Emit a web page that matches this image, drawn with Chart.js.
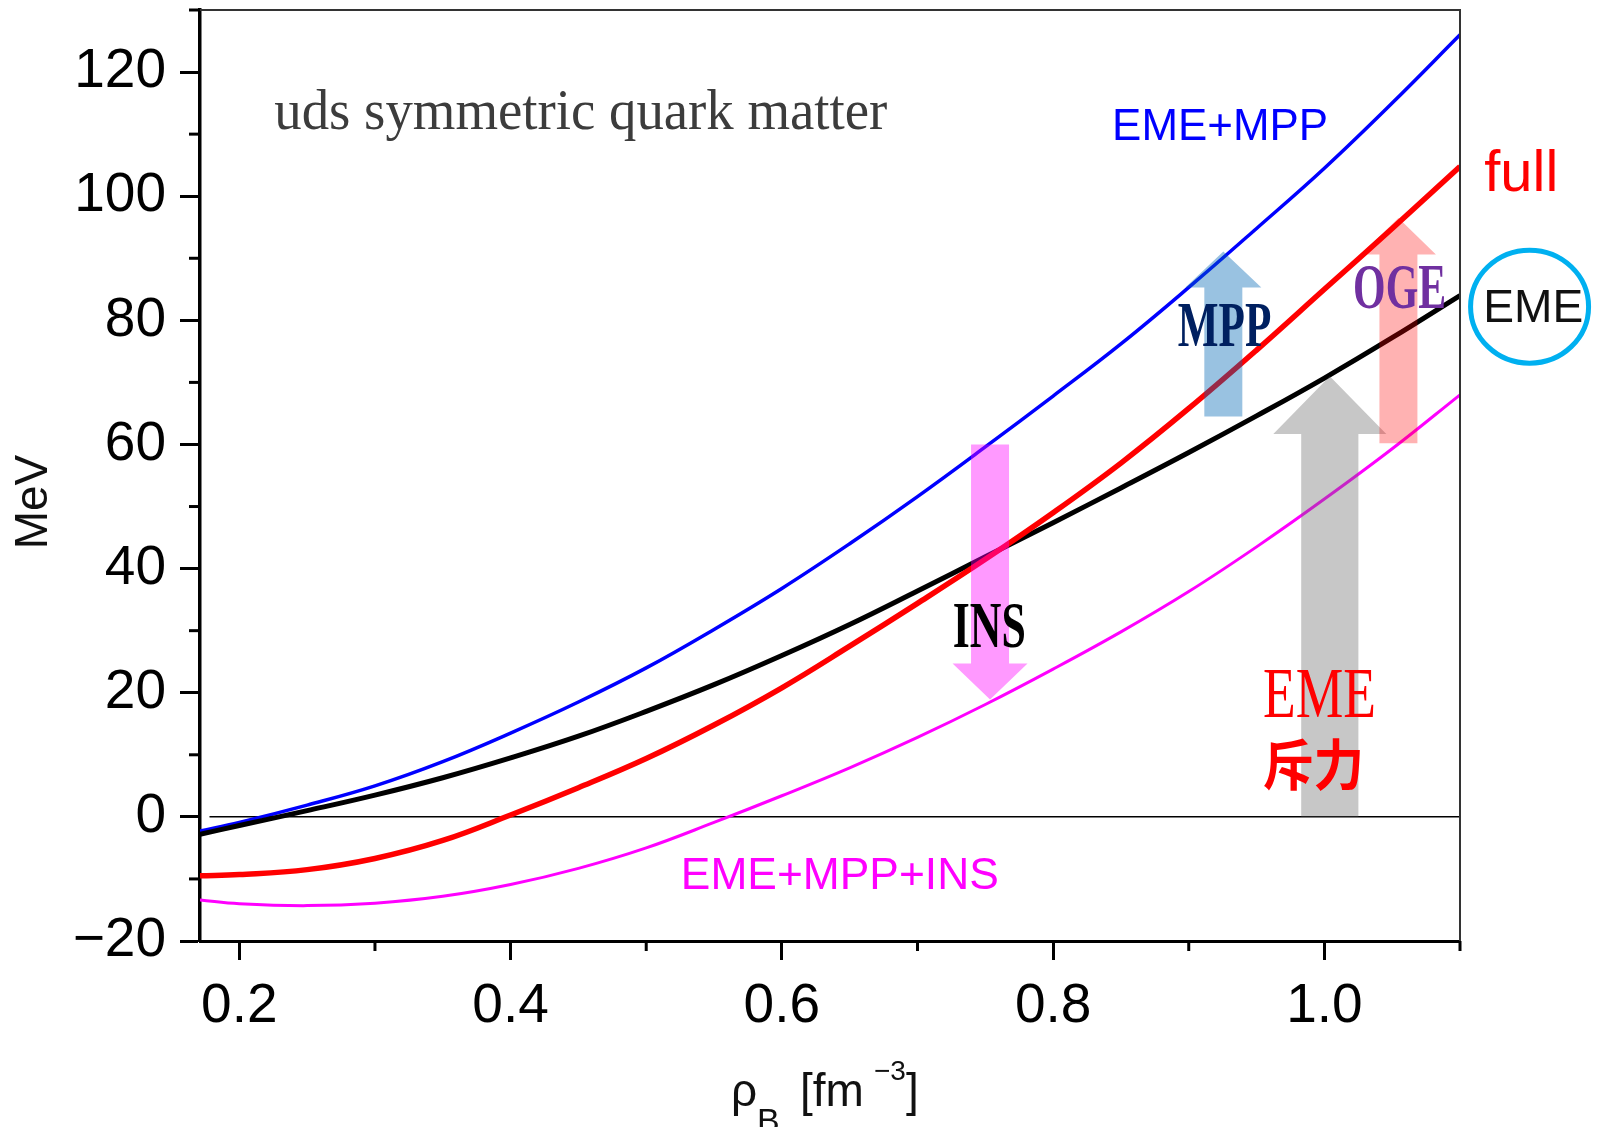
<!DOCTYPE html>
<html>
<head>
<meta charset="utf-8">
<script src="https://cdn.jsdelivr.net/npm/chart.js@4.4.1/dist/chart.umd.min.js"></script>
<style>
  html, body { margin: 0; padding: 0; background: #fff; }
</style>
</head>
<body>
<canvas id="myChart" width="1601" height="1127"></canvas>
<script>
// baryon density rho_B [fm^-3]
var rho       = [0.171, 0.2, 0.25, 0.3, 0.35, 0.4, 0.45, 0.5, 0.55, 0.6, 0.65, 0.7, 0.75, 0.8, 0.85, 0.9, 0.95, 1.0, 1.05, 1.1];
// energies in MeV
var emeMpp    = [-2.3, -0.9, 1.9, 5.0, 8.9, 13.5, 18.5, 24.0, 30.2, 36.8, 44.0, 51.6, 59.6, 67.8, 76.2, 85.3, 94.8, 104.5, 115.0, 126.0];
var full      = [-9.5, -9.3, -8.5, -6.7, -3.8, 0.3, 4.7, 9.4, 14.8, 20.8, 27.5, 34.4, 41.5, 49.0, 57.0, 65.8, 75.2, 85.0, 94.8, 104.8];
var eme       = [-2.8, -1.4, 1.0, 3.5, 6.3, 9.5, 13.0, 17.0, 21.3, 26.0, 31.0, 36.4, 41.9, 47.4, 53.0, 58.7, 64.6, 70.7, 77.2, 84.0];
var emeMppIns = [-13.4, -14.0, -14.3, -13.9, -12.8, -10.9, -8.3, -5.0, -0.9, 3.4, 7.9, 12.8, 18.1, 23.8, 29.8, 36.3, 43.5, 51.2, 59.3, 68.0];

var xTicks = [0.2, 0.4, 0.6, 0.8, 1.0];
var xMinor = [0.3, 0.5, 0.7, 0.9, 1.1];
var yTicks = [-20, 0, 20, 40, 60, 80, 100, 120];
var yMinor = [-10, 10, 30, 50, 70, 90, 110, 130];

// block arrows: x, tail, head base, tip (data units); half widths in px
var arrows = [
    { x: 0.7535, tail: 60.0, base: 24.7, tip: 18.9, shaft: 19, head: 37.5, color: 'rgba(255,0,255,0.4)' },
    { x: 0.9255, tail: 64.5, base: 85.3, tip: 91.1, shaft: 19, head: 38, color: 'rgba(0,102,180,0.4)' },
    { x: 1.004, tail: 0, base: 61.7, tip: 71.0, shaft: 28.6, head: 56.5, color: 'rgba(100,100,100,0.36)' },
    { x: 1.0546, tail: 60.2, base: 90.6, tip: 96.5, shaft: 19, head: 37.5, color: 'rgba(255,0,0,0.3)' }
];

var serif = '"Liberation Serif", "DejaVu Serif", serif';
var sans = '"Liberation Sans", Arial, sans-serif';

// text labels: left x, baseline y (data units), target width px
var labels = [
    { text: 'uds symmetric quark matter', x: 0.2258, y: 110.8, w: 613, font: '56px ' + serif, color: '#3c3c3c' },
    { text: 'EME+MPP', x: 0.8435, y: 109.0, w: 216, font: '45px ' + sans, color: '#0000ff' },
    { text: 'full', x: 1.1179, y: 100.8, w: 74, font: '57px ' + sans, color: '#ff0000' },
    { text: 'EME', x: 1.1171, y: 79.8, w: 100, font: '47px ' + sans, color: '#111111' },
    { text: 'OGE', x: 1.0212, y: 82.0, w: 93, font: 'bold 63px ' + serif, color: '#7030a0' },
    { text: 'MPP', x: 0.8919, y: 75.8, w: 93.5, font: 'bold 63px ' + serif, color: '#002060' },
    { text: 'INS', x: 0.726, y: 27.4, w: 73, font: 'bold 65px ' + serif, color: '#000000' },
    { text: 'EME', x: 0.9547, y: 16.1, w: 113, font: '72px ' + serif, color: '#ff0000' },
    { text: '斥力', x: 0.9547, y: 5.2, w: 101, font: 'bold 55px "Noto Sans CJK JP", sans-serif', color: '#ff0000' },
    { text: 'EME+MPP+INS', x: 0.5255, y: -11.6, w: 318, font: '45px ' + sans, color: '#ff00ff' }
];

function toPoints(ys) {
    return rho.map(function (x, i) { return { x: x, y: ys[i] }; });
}

function fitText(ctx, text, x, y, font, color, width) {
    ctx.save();
    ctx.font = font;
    ctx.fillStyle = color;
    ctx.textAlign = 'left';
    ctx.textBaseline = 'alphabetic';
    var m = ctx.measureText(text).width;
    ctx.translate(x, y);
    ctx.scale(width / m, 1);
    ctx.fillText(text, 0, 0);
    ctx.restore();
}

var decorations = {
    id: 'decorations',
    beforeDatasetsDraw: function (chart) {
        var ctx = chart.ctx, xs = chart.scales.x, ys = chart.scales.y;
        // zero line
        ctx.save();
        ctx.strokeStyle = '#000';
        ctx.lineWidth = 1.5;
        ctx.beginPath();
        ctx.moveTo(xs.getPixelForValue(0.178), ys.getPixelForValue(0));
        ctx.lineTo(xs.right, ys.getPixelForValue(0));
        ctx.stroke();
        ctx.restore();
    },
    afterDatasetsDraw: function (chart) {
        var ctx = chart.ctx, xs = chart.scales.x, ys = chart.scales.y;
        var a = chart.chartArea;
        ctx.save();
        // frame top / right
        ctx.strokeStyle = '#333';
        ctx.lineWidth = 2;
        ctx.beginPath();
        ctx.moveTo(a.left, a.top);
        ctx.lineTo(a.right, a.top);
        ctx.lineTo(a.right, a.bottom);
        ctx.stroke();
        // minor ticks
        ctx.strokeStyle = '#000';
        ctx.lineWidth = 3;
        xMinor.forEach(function (v) {
            var px = xs.getPixelForValue(v);
            ctx.beginPath();
            ctx.moveTo(px, a.bottom);
            ctx.lineTo(px, a.bottom + 10);
            ctx.stroke();
        });
        yMinor.forEach(function (v) {
            var py = ys.getPixelForValue(v);
            ctx.beginPath();
            ctx.moveTo(a.left - 11, py);
            ctx.lineTo(a.left, py);
            ctx.stroke();
        });
        // arrows
        arrows.forEach(function (ar) {
            var cx = xs.getPixelForValue(ar.x);
            var yt = ys.getPixelForValue(ar.tail);
            var yb = ys.getPixelForValue(ar.base);
            var yp = ys.getPixelForValue(ar.tip);
            ctx.fillStyle = ar.color;
            ctx.beginPath();
            ctx.moveTo(cx - ar.shaft, yt);
            ctx.lineTo(cx - ar.shaft, yb);
            ctx.lineTo(cx - ar.head, yb);
            ctx.lineTo(cx, yp);
            ctx.lineTo(cx + ar.head, yb);
            ctx.lineTo(cx + ar.shaft, yb);
            ctx.lineTo(cx + ar.shaft, yt);
            ctx.closePath();
            ctx.fill();
        });
        // circle around EME
        ctx.strokeStyle = '#00b0f0';
        ctx.lineWidth = 5;
        ctx.beginPath();
        ctx.ellipse(xs.getPixelForValue(1.1513), ys.getPixelForValue(82.2), 59, 56.5, 0, 0, Math.PI * 2);
        ctx.stroke();
        ctx.restore();
        labels.forEach(function (l) {
            fitText(ctx, l.text, xs.getPixelForValue(l.x), ys.getPixelForValue(l.y), l.font, l.color, l.w);
        });
        // axis titles
        ctx.save();
        ctx.fillStyle = '#111';
        ctx.textBaseline = 'alphabetic';
        ctx.font = '46px ' + sans;
        ctx.fillText('ρ', 731, 1106);
        ctx.font = '34px ' + sans;
        ctx.fillText('B', 757, 1132);
        ctx.font = '46px ' + sans;
        ctx.fillText('[fm', 800, 1106);
        ctx.font = '28px ' + sans;
        ctx.fillText('−3', 874, 1080);
        ctx.font = '46px ' + sans;
        ctx.fillText(']', 906, 1106);
        ctx.translate(34, 502);
        ctx.rotate(-Math.PI / 2);
        ctx.textAlign = 'center';
        ctx.textBaseline = 'middle';
        ctx.font = '46px ' + sans;
        ctx.fillText('MeV', 0, 0);
        ctx.restore();
    }
};

var tickFont = { family: '"Liberation Sans", Arial, sans-serif', size: 55 };

var ctx = document.getElementById('myChart');
var config = {
    type: 'scatter',
    data: {
        datasets: [
            { label: 'full', data: toPoints(full), borderColor: '#ff0000', borderWidth: 5.5 },
            { label: 'EME', data: toPoints(eme), borderColor: '#000000', borderWidth: 5 },
            { label: 'EME+MPP', data: toPoints(emeMpp), borderColor: '#0000ff', borderWidth: 3.5 },
            { label: 'EME+MPP+INS', data: toPoints(emeMppIns), borderColor: '#ff00ff', borderWidth: 3 }
        ]
    },
    options: {
        responsive: false,
        animation: false,
        devicePixelRatio: 1,
        showLine: true,
        elements: {
            point: { radius: 0 },
            line: { tension: 0.4, fill: false }
        },
        layout: { padding: { top: 10, right: 141, left: 0, bottom: 0 } },
        plugins: { legend: { display: false }, tooltip: { enabled: false } },
        scales: {
            x: {
                type: 'linear',
                min: 0.171,
                max: 1.1,
                afterBuildTicks: function (s) { s.ticks = xTicks.map(function (v) { return { value: v }; }); },
                afterFit: function (s) { s.height = 186; s.paddingLeft = 0; s.paddingRight = 0; },
                grid: { drawOnChartArea: false, drawTicks: true, tickLength: 19, tickWidth: 3, tickColor: '#000' },
                border: { display: true, color: '#000', width: 3 },
                ticks: {
                    color: '#000',
                    font: tickFont,
                    padding: 14,
                    maxRotation: 0,
                    autoSkip: false,
                    callback: function (v) { return v.toFixed(1); }
                }
            },
            y: {
                type: 'linear',
                min: -20,
                max: 130,
                afterBuildTicks: function (s) { s.ticks = yTicks.map(function (v) { return { value: v }; }); },
                afterFit: function (s) { s.width = 200; s.paddingTop = 0; s.paddingBottom = 0; },
                grid: { drawOnChartArea: false, drawTicks: true, tickLength: 20, tickWidth: 3, tickColor: '#000' },
                border: { display: true, color: '#000', width: 3.5 },
                ticks: {
                    color: '#000',
                    font: tickFont,
                    padding: 14,
                    autoSkip: false,
                    callback: function (v) { return v < 0 ? '\u2212' + Math.abs(v) : String(v); }
                }
            }
        }
    },
    plugins: [decorations]
};
var currentChart = new Chart(ctx, config);
</script>
</body>
</html>
